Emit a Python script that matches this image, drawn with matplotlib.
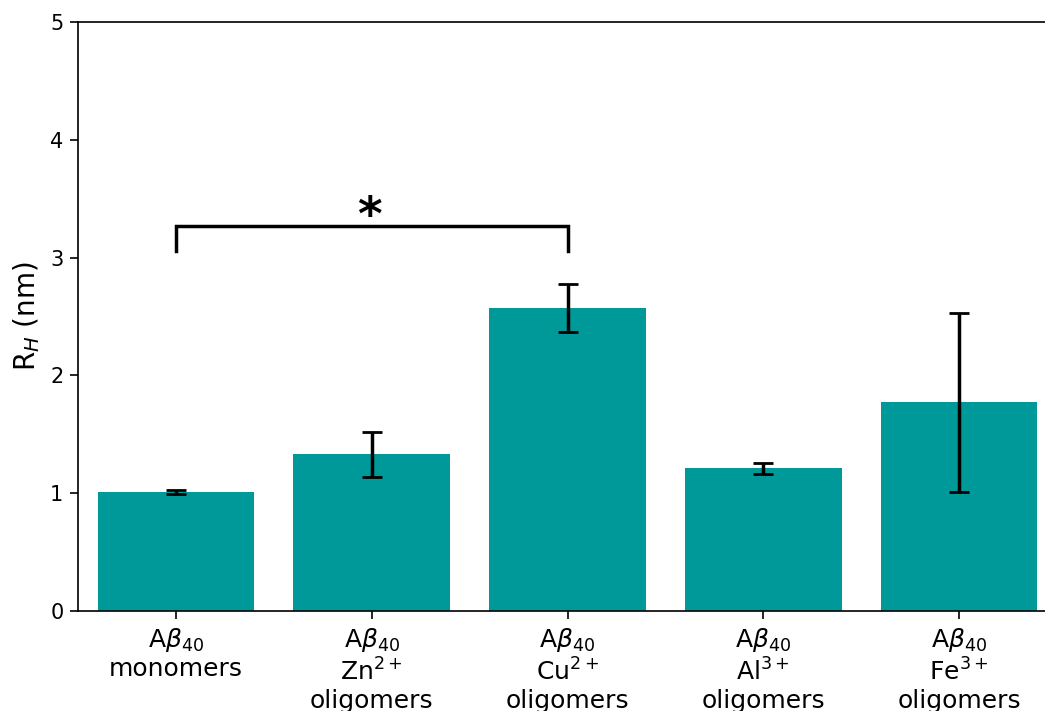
import matplotlib
matplotlib.use("Agg")
import matplotlib.pyplot as plt
import numpy as np

categories = [
    "A$\\beta_{40}$\nmonomers",
    "A$\\beta_{40}$\nZn$^{2+}$\noligomers",
    "A$\\beta_{40}$\nCu$^{2+}$\noligomers",
    "A$\\beta_{40}$\nAl$^{3+}$\noligomers",
    "A$\\beta_{40}$\nFe$^{3+}$\noligomers",
]
rh_mean = [1.01, 1.33, 2.57, 1.21, 1.77]
rh_err = [0.015, 0.19, 0.205, 0.045, 0.76]

sig_pair = (0, 2)
sig_height = 3.27
sig_drop = 0.21
sig_label = "*"

W, H = 1045, 711
fig = plt.figure(figsize=(W / 100, H / 100), dpi=100)
ax = fig.add_axes([78 / W, (H - 611) / H, (1057 - 78) / W, (611 - 22) / H])

x = np.arange(len(categories))
ax.bar(x, rh_mean, width=0.8, color="#009999")
ax.errorbar(x, rh_mean, yerr=rh_err, fmt="none", ecolor="black",
            elinewidth=2.5, capsize=7.5, capthick=2)

for side in ax.spines.values():
    side.set_linewidth(1.2)
ax.tick_params(width=1.2, length=5.5, pad=5)

ax.set_xlim(-0.5, len(categories) - 0.5)
ax.set_ylim(0, 5)
ax.set_xticks(x)
ax.set_xticklabels(categories, fontsize=18)
ax.tick_params(axis="y", labelsize=15)
ax.set_ylabel("R$_H$ (nm)", fontsize=20, labelpad=6)

x0, x1 = sig_pair
ax.plot([x0, x0, x1, x1],
        [sig_height - sig_drop, sig_height, sig_height, sig_height - sig_drop],
        color="black", lw=2.5, solid_joinstyle="miter")
ax.text((x0 + x1) / 2 - 0.01, sig_height - 0.035, sig_label, ha="center",
        va="baseline", fontsize=34, fontweight="bold")

fig.savefig("out.png", dpi=100)
